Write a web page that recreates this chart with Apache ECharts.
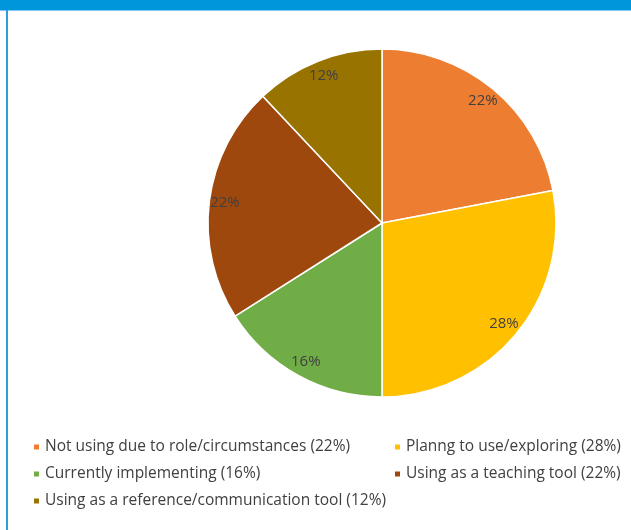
<!DOCTYPE html>
<html>
<head>
<meta charset="utf-8">
<script src="https://cdn.jsdelivr.net/npm/echarts@6/dist/echarts.min.js"></script>
<style>
  html, body { margin: 0; padding: 0; background: #fff; }
  #frame { position: relative; width: 631px; height: 530px; overflow: hidden; }
  #topbar { position: absolute; left: 0; top: 0; width: 631px; height: 10px; background: #0096db; border-bottom: 1px solid #7cc8ee; }
  #leftline { position: absolute; left: 6px; top: 10px; width: 2px; height: 520px; background: #2a9fdc; }
  #main { position: absolute; left: 0; top: 0; width: 631px; height: 530px; }
</style>
</head>
<body>
<div id="frame">
  <div id="main"></div>
  <div id="topbar"></div>
  <div id="leftline"></div>
</div>
<script>
// categories / values
var categories = [
  'Not using due to role/circumstances',
  'Planng to use/exploring',
  'Currently implementing',
  'Using as a teaching tool',
  'Using as a reference/communication tool'
];
var values = [22, 28, 16, 22, 12];
var colors = ['#ED7D31', '#FFC000', '#70AD47', '#9E480E', '#997300'];

var cx = 382, cy = 223, r = 174;
var labelR = 153; // labels sit near the outer edge

var chart = echarts.init(document.getElementById('main'));

var pieData = categories.map(function (name, i) {
  return { name: name, value: values[i], itemStyle: { color: colors[i] } };
});

function legendName(name) {
  var i = categories.indexOf(name);
  return name + ' (' + values[i] + '%)';
}

var legendText = {
  color: '#404040',
  fontSize: 15.5,
  lineHeight: 16,
  fontFamily: 'Open Sans'
};

var option = {
  animation: false,
  legend: [{
    data: [categories[0], categories[2], categories[4]],
    orient: 'vertical',
    left: 27,
    top: 434,
    itemWidth: 7,
    itemHeight: 7,
    itemGap: 11,
    icon: 'rect',
    formatter: legendName,
    textStyle: legendText
  }, {
    data: [categories[1], categories[3]],
    orient: 'vertical',
    left: 388,
    top: 434,
    itemWidth: 7,
    itemHeight: 7,
    itemGap: 11,
    icon: 'rect',
    formatter: legendName,
    textStyle: legendText
  }],
  series: [{
    type: 'pie',
    center: [cx, cy],
    radius: [0, r],
    startAngle: 90,
    clockwise: true,
    itemStyle: { borderColor: '#fff', borderWidth: 1.5 },
    label: {
      position: 'inside',
      formatter: '{c}%',
      color: '#404040',
      fontSize: 15,
      fontFamily: 'Open Sans'
    },
    labelLayout: function (params) {
      var lr = params.labelRect;
      var lx = lr.x + lr.width / 2, ly = lr.y + lr.height / 2;
      var k = labelR / (r / 2) - 1;
      return { dx: (lx - cx) * k, dy: (ly - cy) * k };
    },
    emphasis: { disabled: true },
    data: pieData
  }]
};

chart.setOption(option);
</script>
</body>
</html>
